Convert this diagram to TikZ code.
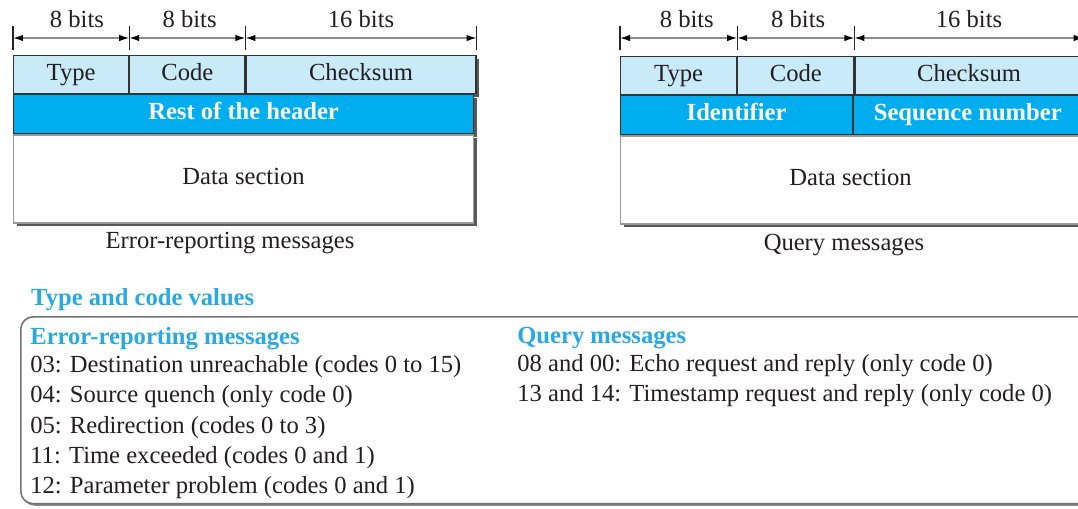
\documentclass[tikz,border=0pt]{standalone}
\usepackage{fontspec}
\setmainfont{Liberation Serif}
\usepackage{xcolor}
\usetikzlibrary{arrows.meta, positioning, shadows}
\definecolor{paleblue}{HTML}{C8EAF9}
\definecolor{icmpblue}{HTML}{00AEEF}
\definecolor{titleblue}{HTML}{29A9E1}
\definecolor{inkdark}{HTML}{231F20}
\newcommand{\icmpfont}{\fontsize{14}{17.3}\selectfont}

\begin{document}
\begin{tikzpicture}[x=0.02cm, y=-0.02cm,
        every node/.style={font=\icmpfont, text=inkdark},
        cell/.style={rectangle, draw=black!80, line width=0.7pt, fill=paleblue, minimum height=0.76cm, inner sep=0pt,
            text height=0.76em, text depth=0.14em,
            drop shadow={shadow xshift=0.06cm, shadow yshift=-0.06cm, fill=black!65, opacity=1}},
        hdr/.style={cell, fill=icmpblue, text=white, font=\icmpfont\bfseries, minimum height=0.78cm},
        datasec/.style={cell, draw=black!40, fill=white, minimum height=1.76cm},
        bitlabel/.style={above=2pt, pos=0.55},
        dim/.style={{Latex[length=2mm, width=1.3mm, color=black]}-{Latex[length=2mm, width=1.3mm, color=black]}, draw=black!45, line width=0.8pt},
        tickline/.style={draw=black!85, line width=0.6pt},
        valbox/.style={rectangle, rounded corners=0.25cm, draw=black!55, line width=0.9pt, fill=white,
            drop shadow={shadow xshift=0.03cm, shadow yshift=-0.04cm, fill=black!45, opacity=1}},
        listtext/.style={align=left, anchor=north west, inner sep=0pt},
        heading/.style={font=\icmpfont\bfseries, text=titleblue}
    ]
        \useasboundingbox (0,0) rectangle (1078,508);
        \clip (0,0) rectangle (1078,508);

        % error-reporting message format
        \node[cell, minimum width=2.3cm, anchor=north west] (errtype) at (13,55) {Type};
        \node[cell, minimum width=2.3cm, right=0pt of errtype] (errcode) {Code};
        \node[cell, minimum width=4.6cm, right=0pt of errcode] (errsum) {Checksum};
        \node[hdr, minimum width=9.2cm, below=0pt of errtype.south west, anchor=north west] (errrest) {Rest of the header};
        \node[datasec, minimum width=9.2cm, below=0pt of errrest.south west, anchor=north west] (errdata) {Data section};
        \node (errcap) at (230,243) {Error-reporting messages};

        \coordinate (e0) at ([yshift=0.34cm]errtype.north west);
        \coordinate (e1) at ([yshift=0.34cm]errcode.north west);
        \coordinate (e2) at ([yshift=0.34cm]errsum.north west);
        \coordinate (e3) at ([yshift=0.34cm]errsum.north east);
        \draw[tickline] ([yshift=0.24cm]e0) -- ([yshift=-0.24cm]e0);
        \draw[tickline] ([yshift=0.24cm]e1) -- ([yshift=-0.24cm]e1);
        \draw[tickline] ([yshift=0.24cm]e2) -- ([yshift=-0.24cm]e2);
        \draw[tickline] ([yshift=0.24cm]e3) -- ([yshift=-0.24cm]e3);
        \draw[dim] (e0) -- node[bitlabel] (errbits1) {8 bits} (e1);
        \draw[dim] (e1) -- node[bitlabel, pos=0.52] (errbits2) {8 bits} (e2);
        \draw[dim] (e2) -- node[bitlabel, pos=0.5] (errbits3) {16 bits} (e3);

        % query message format
        \node[cell, minimum width=2.32cm, anchor=north west] (qtype) at (620,56) {Type};
        \node[cell, minimum width=2.32cm, right=0pt of qtype] (qcode) {Code};
        \node[cell, minimum width=4.56cm, right=0pt of qcode] (qsum) {Checksum};
        \node[hdr, minimum width=4.64cm, below=0pt of qtype.south west, anchor=north west] (qident) {Identifier};
        \node[hdr, minimum width=4.56cm, right=0pt of qident] (qseq) {Sequence number};
        \node[datasec, minimum width=9.2cm, below=0pt of qident.south west, anchor=north west] (qdata) {Data section};
        \node (qcap) at (844,245) {Query messages};

        \coordinate (q0) at ([yshift=0.36cm]qtype.north west);
        \coordinate (q1) at ([yshift=0.36cm]qcode.north west);
        \coordinate (q2) at ([yshift=0.36cm]qsum.north west);
        \coordinate (q3) at ([yshift=0.36cm]qsum.north east);
        \draw[tickline] ([yshift=0.24cm]q0) -- ([yshift=-0.24cm]q0);
        \draw[tickline] ([yshift=0.24cm]q1) -- ([yshift=-0.24cm]q1);
        \draw[tickline] ([yshift=0.24cm]q2) -- ([yshift=-0.24cm]q2);
        \draw[tickline] ([yshift=0.24cm]q3) -- ([yshift=-0.24cm]q3);
        \draw[dim] (q0) -- node[bitlabel, pos=0.57] (qbits1) {8 bits} (q1);
        \draw[dim] (q1) -- node[bitlabel, pos=0.52] (qbits2) {8 bits} (q2);
        \draw[dim] (q2) -- node[bitlabel, pos=0.5] (qbits3) {16 bits} (q3);

        % type and code values
        \node[heading, anchor=base west] (valtitle) at (25,305) {Type and code values};
        \node[valbox, minimum width=21.4cm, minimum height=3.74cm, anchor=north west] (values) at (20,316) {};
        \node[listtext] (errlist) at (30,327) {
            \textcolor{titleblue}{\bfseries Error-reporting messages}\\[-1.4pt]
            03: Destination unreachable (codes 0 to 15)\\
            04: Source quench (only code 0)\\
            05: Redirection (codes 0 to 3)\\
            11: Time exceeded (codes 0 and 1)\\
            12: Parameter problem (codes 0 and 1)
        };
        \node[listtext] (qlist) at (517,327) {
            \textcolor{titleblue}{\bfseries Query messages}\\[-1.4pt]
            08 and 00: Echo request and reply (only code 0)\\
            13 and 14: Timestamp request and reply (only code 0)
        };
    \end{tikzpicture}
\end{document}
